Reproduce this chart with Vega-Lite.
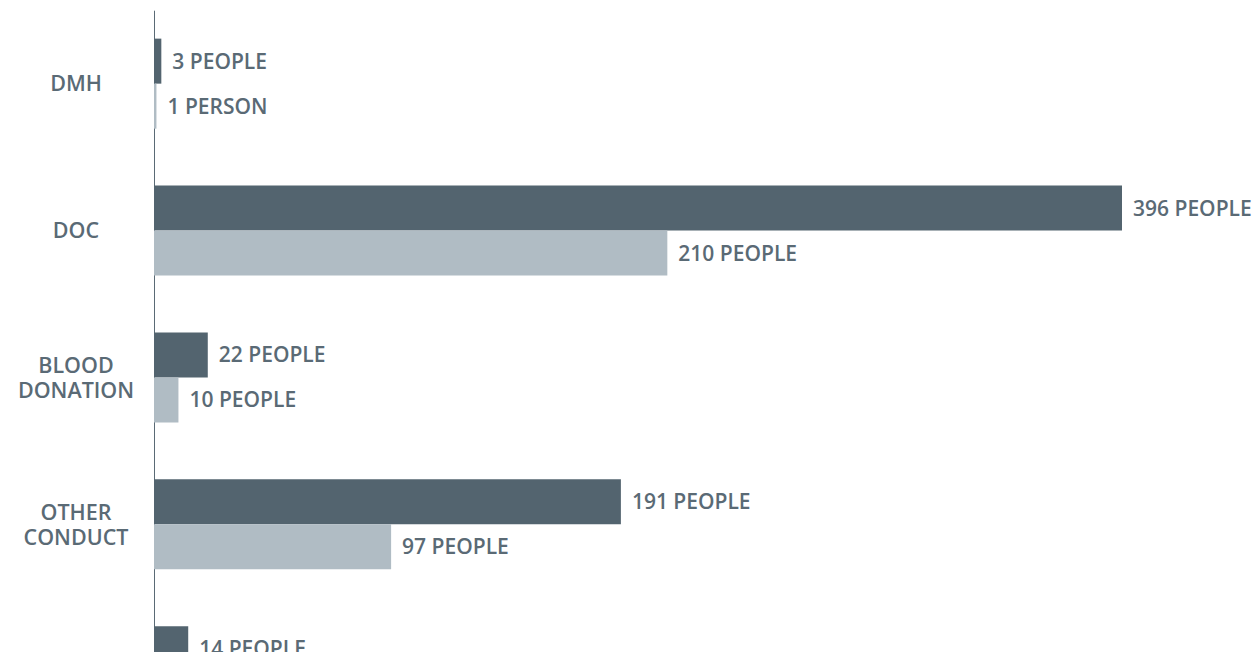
{
  "$schema": "https://vega.github.io/schema/vega-lite/v6.json",
  "autosize": "none",
  "width": 1100,
  "height": 646,
  "padding": {"left": 154, "top": 6, "right": 0, "bottom": 0},
  "background": "white",
  "config": {"view": {"stroke": null}, "font": "Open Sans"},
  "data": {
    "values": [
      {"category": "DMH", "series": "A", "people": 3, "label": "3 PEOPLE"},
      {"category": "DMH", "series": "B", "people": 1, "label": "1 PERSON"},
      {"category": "DOC", "series": "A", "people": 396, "label": "396 PEOPLE"},
      {"category": "DOC", "series": "B", "people": 210, "label": "210 PEOPLE"},
      {"category": "BLOOD DONATION", "series": "A", "people": 22, "label": "22 PEOPLE"},
      {"category": "BLOOD DONATION", "series": "B", "people": 10, "label": "10 PEOPLE"},
      {"category": "OTHER CONDUCT", "series": "A", "people": 191, "label": "191 PEOPLE"},
      {"category": "OTHER CONDUCT", "series": "B", "people": 97, "label": "97 PEOPLE"},
      {"category": "OTHER", "series": "A", "people": 14, "label": "14 PEOPLE"}
    ]
  },
  "encoding": {
    "y": {
      "field": "category",
      "type": "nominal",
      "sort": ["DMH", "DOC", "BLOOD DONATION", "OTHER CONDUCT", "OTHER"],
      "scale": {"range": [4.2, 738.7], "paddingInner": 0.387, "paddingOuter": 0.1935},
      "axis": {
        "title": null,
        "ticks": false,
        "grid": false,
        "domainColor": "#5a6a75",
        "domainWidth": 1,
        "labelAlign": "center",
        "labelBaseline": {"condition": {"test": "indexof(datum.value, ' ') >= 0", "value": "line-bottom"}, "value": "middle"},
        "labelOffset": 1.5,
        "labelPadding": 78.5,
        "labelFont": "Open Sans",
        "labelFontWeight": 600,
        "labelFontSize": 21.5,
        "labelColor": "#5a6a75",
        "labelLineHeight": 25,
        "labelExpr": "split(datum.label, ' ')"
      }
    },
    "yOffset": {
      "field": "series",
      "type": "nominal",
      "sort": ["A", "B"],
      "scale": {"paddingInner": 0, "paddingOuter": 0}
    },
    "x": {
      "field": "people",
      "type": "quantitative",
      "scale": {"domain": [0, 450], "nice": false},
      "axis": null
    }
  },
  "layer": [
    {
      "mark": {"type": "bar"},
      "encoding": {
        "color": {
          "field": "series",
          "type": "nominal",
          "scale": {"domain": ["A", "B"], "range": ["#53646f", "#b0bcc4"]},
          "legend": null
        }
      }
    },
    {
      "mark": {
        "type": "text",
        "align": "left",
        "baseline": "middle",
        "dx": 11,
        "dy": 1.5,
        "font": "Open Sans",
        "fontWeight": 600,
        "fontSize": 21,
        "color": "#5a6a75"
      },
      "encoding": {"text": {"field": "label"}}
    }
  ]
}
